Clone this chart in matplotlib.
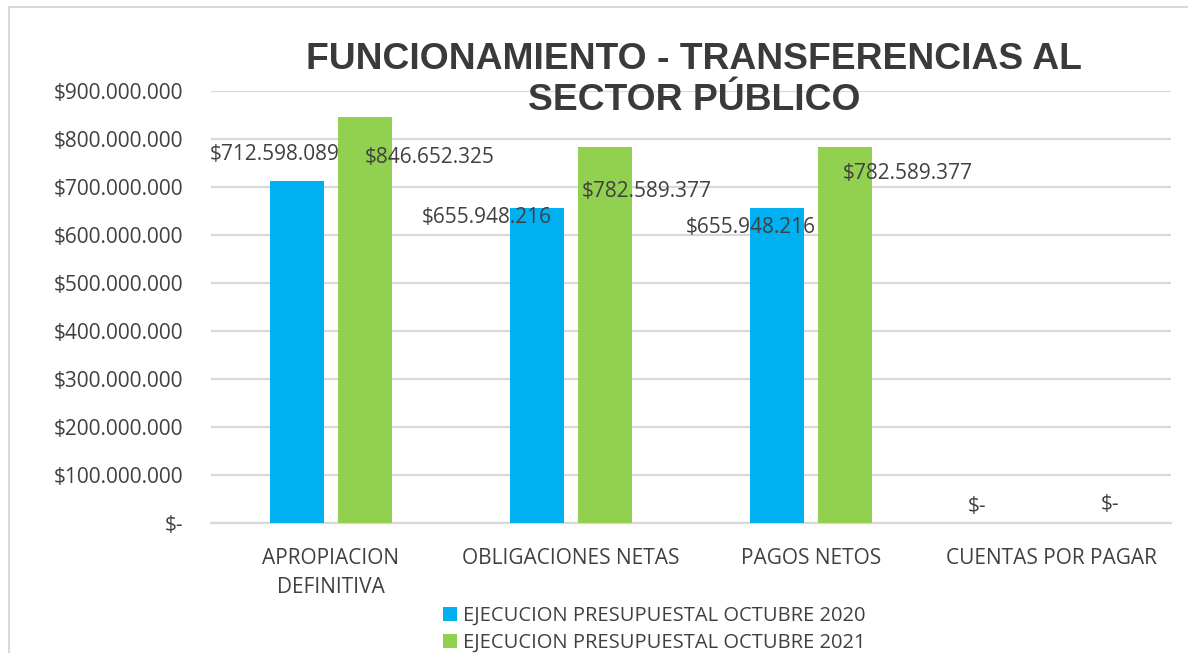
import numpy as np
import matplotlib
matplotlib.use('Agg')
import matplotlib.pyplot as plt
from matplotlib.patches import Rectangle

# datos
categorias = ['APROPIACION\nDEFINITIVA', 'OBLIGACIONES NETAS', 'PAGOS NETOS', 'CUENTAS POR PAGAR']
ejec_2020 = [712598089, 655948216, 655948216, 0]
ejec_2021 = [846652325, 782589377, 782589377, 0]
serie_2020 = 'EJECUCION PRESUPUESTAL OCTUBRE 2020'
serie_2021 = 'EJECUCION PRESUPUESTAL OCTUBRE 2021'
titulo = 'FUNCIONAMIENTO - TRANSFERENCIAS AL\nSECTOR PÚBLICO'
y_ticks = np.arange(0, 900000001, 100000000)

# desplazamientos de las etiquetas (pixeles) respecto al tope de cada barra
off_2020 = [(-23, 26), (-51, -9), (-27, -19), (-40, 16)]
off_2021 = [(65, -41), (42, -44), (63, -26), (25, 18)]

def pesos(v):
    if v == 0:
        return '$-'
    return '$' + f'{int(v):,}'.replace(',', '.')

plt.rcParams['font.family'] = ['Open Sans', 'DejaVu Sans']
gris = '#404040'
linea = '#d9d9d9'

fig = plt.figure(figsize=(11.88, 6.53), dpi=100)
ax = fig.add_axes([211/1188, 1-523/653, 960/1188, 432/653])

x = np.arange(len(categorias))
w = 0.225
b1 = ax.bar(x - 0.14, ejec_2020, w, color='#00B0F0', label=serie_2020, zorder=3)
b2 = ax.bar(x + 0.14, ejec_2021, w, color='#92D050', label=serie_2021, zorder=3)

for barras, offs in ((b1, off_2020), (b2, off_2021)):
    for r, (dx, dy) in zip(barras, offs):
        ax.annotate(pesos(r.get_height()), (r.get_x() + r.get_width()/2, r.get_height()),
                    xytext=(dx, dy), textcoords='offset pixels', ha='center', va='center',
                    fontsize=15, color=gris, zorder=5)

ax.set_xlim(-0.5, len(categorias) - 0.5)
ax.set_ylim(0, 900000000)
ax.set_yticks(y_ticks)
ax.set_yticklabels([pesos(v) for v in y_ticks], fontsize=15, color=gris)
ax.set_xticks(x)
ax.set_xticklabels(categorias, fontsize=15, color=gris, linespacing=1.5)
ax.tick_params(length=0)
ax.tick_params(axis='y', pad=20)
ax.tick_params(axis='x', pad=18)
ax.grid(axis='y', color=linea, lw=1.6, zorder=0)
for s in ['top', 'right', 'left']:
    ax.spines[s].set_visible(False)
ax.spines['bottom'].set_color(linea)
ax.spines['bottom'].set_linewidth(1.6)

fig.text(694/1188, 1-80/653, titulo, ha='center', va='center', fontsize=26.8,
         fontweight='bold', family='Liberation Sans', color='#3a3a3a', linespacing=1.22)

fig.legend(handles=[b1, b2], loc='upper left', bbox_to_anchor=(443/1188, 1-606/653),
           frameon=False, fontsize=14.5, handlelength=0.7, handleheight=0.7,
           handletextpad=0.3, labelspacing=0.35, borderpad=0, borderaxespad=0,
           labelcolor=gris)

fig.add_artist(Rectangle((9/1188, -0.05), 1.1, 1.05 - 7/653, transform=fig.transFigure,
                         fill=False, edgecolor=linea, lw=1.5))

fig.savefig('out.png', dpi=100)
plt.close()
